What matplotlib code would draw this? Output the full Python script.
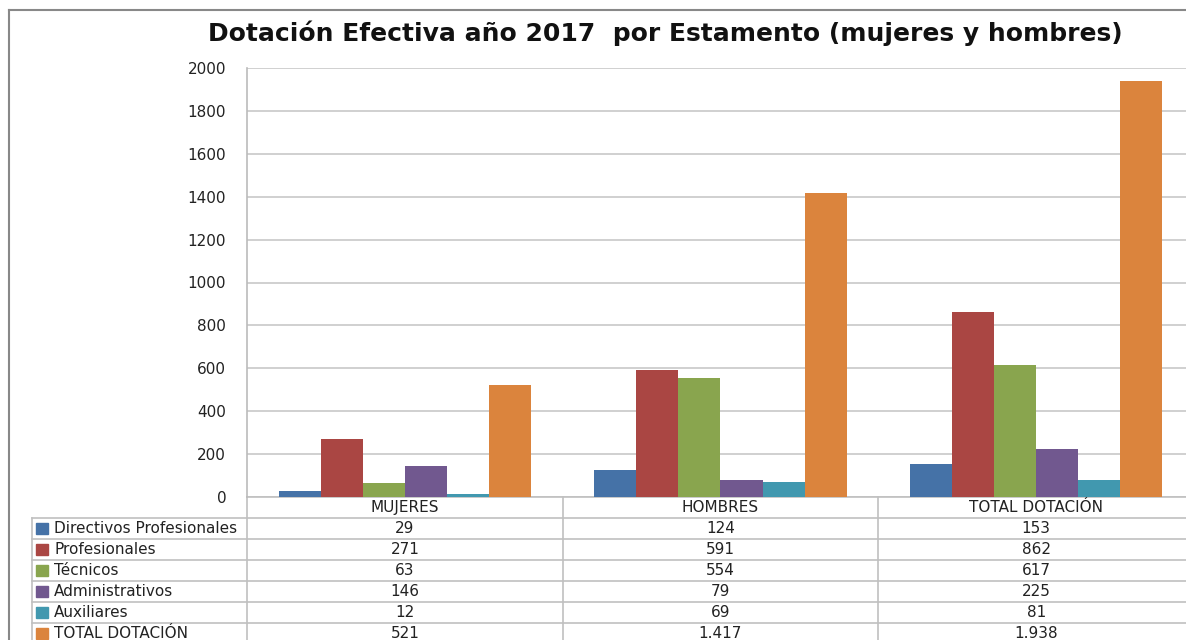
import matplotlib.pyplot as plt
import numpy as np
from matplotlib.transforms import blended_transform_factory
from matplotlib.patches import Rectangle

categories = ['MUJERES', 'HOMBRES', 'TOTAL DOTACIÓN']
series_names = ['Directivos Profesionales', 'Profesionales', 'Técnicos',
                'Administrativos', 'Auxiliares', 'TOTAL DOTACIÓN']
directivos = [29, 124, 153]
profesionales = [271, 591, 862]
tecnicos = [63, 554, 617]
administrativos = [146, 79, 225]
auxiliares = [12, 69, 81]
total = [521, 1417, 1938]
table_labels = [
    ['29', '124', '153'],
    ['271', '591', '862'],
    ['63', '554', '617'],
    ['146', '79', '225'],
    ['12', '69', '81'],
    ['521', '1.417', '1.938'],
]
yticks = [0, 200, 400, 600, 800, 1000, 1200, 1400, 1600, 1800, 2000]

colors = ['#4572A7', '#AA4643', '#89A54E', '#71588F', '#4198AF', '#DB843D']
values = [directivos, profesionales, tecnicos, administrativos, auxiliares, total]

W, H = 1186, 640
fig = plt.figure(figsize=(W / 100, H / 100), dpi=100)
plt.rcParams['font.family'] = ['DejaVu Sans']
fs = 11

# plot area in pixels: x 247..1194, y 68..497
ax = fig.add_axes([247 / W, 1 - 497 / H, 947 / W, (497 - 68) / H])
x = np.arange(len(categories))
width = 0.8 / len(values)
for i, (name, v) in enumerate(zip(series_names, values)):
    ax.bar(x - 0.4 + width * (i + 0.5), v, width=width, color=colors[i], label=name, zorder=3)

ax.set_xlim(-0.5, 2.5)
ax.set_ylim(0, 2000)
ax.set_yticks(yticks)
ax.set_yticklabels([str(t) for t in yticks], fontsize=fs, color='#222222')
ax.set_xticks([])
ax.tick_params(axis='y', length=0, pad=15)
ax.grid(axis='y', color='#C8C8C8', linewidth=1.2, zorder=0)
for s in ['top', 'right', 'bottom']:
    ax.spines[s].set_visible(False)
ax.spines['left'].set_color('#BBBBBB')
ax.spines['left'].set_linewidth(1.2)

# data table under the axis
row_h = 21 / (497 - 68)
trans = blended_transform_factory(ax.transData, ax.transAxes)
line_kw = dict(color='#C0C0C0', linewidth=1.2, clip_on=False)
# header row
for j, c in enumerate(categories):
    ax.text(x[j], -row_h / 2, c, transform=trans, ha='center', va='center', fontsize=fs, color='#222222')
left_px = 32
left_frac = (left_px - 247) / 947
n = len(series_names)
for r in range(n):
    yc = -row_h * (r + 1.5)
    ax.text((54 - 247) / 947, yc, series_names[r], transform=ax.transAxes, ha='left', va='center',
            fontsize=fs, color='#222222')
    ax.add_patch(Rectangle(((36 - 247) / 947, yc - 0.013), 12 / 947, 0.026, transform=ax.transAxes,
                           color=colors[r], clip_on=False))
    for j in range(len(categories)):
        ax.text(x[j], yc, table_labels[r][j], transform=trans, ha='center', va='center',
                fontsize=fs, color='#222222')
# horizontal lines
ax.plot([0, 1], [0, 0], transform=ax.transAxes, **line_kw)
for r in range(1, n + 2):
    ax.plot([left_frac, 1], [-row_h * r, -row_h * r], transform=ax.transAxes, **line_kw)
# vertical lines
for b in [-0.5, 0.5, 1.5, 2.5]:
    ax.plot([b, b], [0, -row_h * (n + 2)], transform=trans, **line_kw)
ax.plot([left_frac, left_frac], [-row_h, -row_h * (n + 2)], transform=ax.transAxes, **line_kw)

# outer frame of the chart
fig.add_artist(plt.Line2D([9 / W, 9 / W], [0, 1 - 10 / H], color='#888888', linewidth=1.5))
fig.add_artist(plt.Line2D([9 / W, 1], [1 - 10 / H, 1 - 10 / H], color='#888888', linewidth=1.5))

fig.text(665 / W, 1 - 33 / H, 'Dotación Efectiva año 2017  por Estamento (mujeres y hombres)',
         ha='center', va='center', fontsize=18, fontweight='bold', color='#111111')

fig.savefig('out.png', dpi=100)
